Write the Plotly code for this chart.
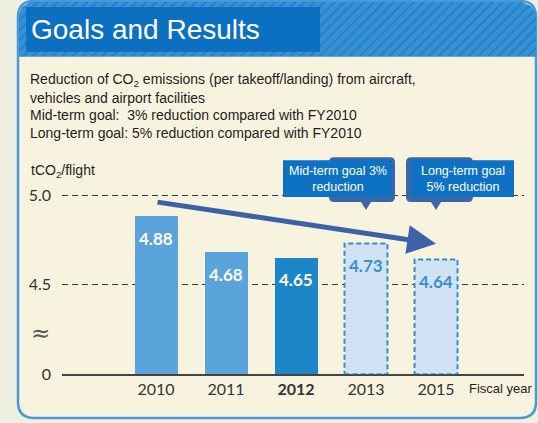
import plotly.graph_objects as go

# ---------------- data ----------------
years = ["2010", "2011", "2012", "2013", "2015"]
tick_labels = ["2010", "2011", "<b>2012</b>", "2013", "2015"]
values = [4.88, 4.68, 4.65, 4.73, 4.64]
is_goal = [False, False, False, True, True]
label_text = ["4.88", "4.68", "4.65", "4.73", "4.64"]
y_tickvals = [4.0, 4.5, 5.0]
y_ticktext = ["0", "4.5", "5.0"]
goal_notes = ["Mid-term goal 3%<br>reduction", "Long-term goal<br>5% reduction"]

# ---------------- geometry helpers ----------------
W, H = 538, 423
FIG_H = 430


def px(x):
    return x / W


def py(y):
    return 1 - y / H


def rrect_path(x0, y0, x1, y1, r):
    pts = [
        f"M {px(x0 + r)} {py(y0)}",
        f"L {px(x1 - r)} {py(y0)}",
        f"Q {px(x1)} {py(y0)} {px(x1)} {py(y0 + r)}",
        f"L {px(x1)} {py(y1 - r)}",
        f"Q {px(x1)} {py(y1)} {px(x1 - r)} {py(y1)}",
        f"L {px(x0 + r)} {py(y1)}",
        f"Q {px(x0)} {py(y1)} {px(x0)} {py(y1 - r)}",
        f"L {px(x0)} {py(y0 + r)}",
        f"Q {px(x0)} {py(y0)} {px(x0 + r)} {py(y0)}",
        "Z",
    ]
    return " ".join(pts)


def callout_path(x0, y0, x1, y1, tipx, tipy, r=5):
    pts = [
        f"M {px(x0 + r)} {py(y0)}",
        f"L {px(x1 - r)} {py(y0)}",
        f"Q {px(x1)} {py(y0)} {px(x1)} {py(y0 + r)}",
        f"L {px(x1)} {py(y1 - r)}",
        f"Q {px(x1)} {py(y1)} {px(x1 - r)} {py(y1)}",
        f"L {px(tipx + 5)} {py(y1)}",
        f"L {px(tipx)} {py(tipy)}",
        f"L {px(tipx - 5)} {py(y1)}",
        f"L {px(x0 + r)} {py(y1)}",
        f"Q {px(x0)} {py(y1)} {px(x0)} {py(y1 - r)}",
        f"L {px(x0)} {py(y0 + r)}",
        f"Q {px(x0)} {py(y0)} {px(x0 + r)} {py(y0)}",
        "Z",
    ]
    return " ".join(pts)


# plot area in pixels
PL, PR, PT, PB = 62, 524, 178, 376
XMIN, XMAX = -1.343, 5.257
YMIN, YMAX = 4.0, 5.1
BAR_W = 0.614

fig = go.Figure()

xs = list(range(len(years)))
bar_colors = []
for i, g in enumerate(is_goal):
    if g:
        bar_colors.append("#cfe3f5")
    elif years[i] == "2012":
        bar_colors.append("#1b87c9")
    else:
        bar_colors.append("#5ba4db")

fig.add_trace(go.Bar(
    x=xs, y=values, width=BAR_W,
    marker=dict(color=bar_colors, line=dict(width=0)),
    hoverinfo="skip", showlegend=False,
))

# header stripes on a full-figure pixel subplot
hx = [19, 19, 22, 30, 522, 531, 536, 536, 19]
hy = [57, 14, 7, 2, 2, 6, 13, 57, 57]
fig.add_trace(go.Scatter(
    x=hx, y=hy, xaxis="x2", yaxis="y2", mode="lines",
    fill="toself", line=dict(width=0), fillcolor="#3592d6",
    fillpattern=dict(shape="/", bgcolor="#3592d6", fgcolor="#1c6db2",
                     size=7, solidity=0.3),
    hoverinfo="skip", showlegend=False,
))

shapes = []
shapes.append(dict(type="path", xref="paper", yref="paper", layer="below",
                   path=rrect_path(18, 1, 536, 420, 16),
                   fillcolor="#f7f3df", line=dict(color="#4b98d6", width=2.5)))

for i, (v, g) in enumerate(zip(values, is_goal)):
    if g:
        shapes.append(dict(type="rect", xref="x", yref="y", layer="above",
                           x0=i - BAR_W / 2, x1=i + BAR_W / 2, y0=YMIN, y1=v,
                           line=dict(color="#2f8fcf", width=2, dash="5px,3px"),
                           fillcolor="rgba(0,0,0,0)"))

shapes.append(dict(type="rect", xref="paper", yref="paper", layer="above",
                   x0=px(26), x1=px(320), y0=py(52), y1=py(7),
                   fillcolor="#0b70c1", line=dict(width=0)))

callouts = [
    (329, 158, 395, 203, 366, 211, 283, 161, 392, 198),
    (406, 158, 473, 203, 436, 211, 411, 161, 514, 198),
]
for c in callouts:
    shapes.append(dict(type="path", xref="paper", yref="paper", layer="above",
                       path=callout_path(c[0], c[1], c[2], c[3], c[4], c[5]),
                       fillcolor="#3d66a8", line=dict(width=0)))
for c in callouts:
    shapes.append(dict(type="rect", xref="paper", yref="paper", layer="above",
                       x0=px(c[6]), x1=px(c[8]), y0=py(c[9]), y1=py(c[7]),
                       fillcolor="#0d72c3", line=dict(width=0)))

annotations = []
for i, (v, g, t) in enumerate(zip(values, is_goal, label_text)):
    annotations.append(dict(x=i, y=v, xref="x", yref="y", text=t,
                            showarrow=False, xanchor="center", yanchor="middle",
                            yshift=-22,
                            font=dict(family="Lato", size=17,
                                      color="#3a8fcc" if g else "#ffffff",
                                      weight="bold")))

annotations.append(dict(x=4, y=4.728, ax=0, ay=4.962, xref="x", yref="y",
                        axref="x", ayref="y", text="", showarrow=True,
                        arrowhead=2, arrowsize=1.15, arrowwidth=5,
                        arrowcolor="#3b62a8"))


def note(text, x, y, size, color="#1e1e1e", xanchor="left", family="Liberation Sans"):
    return dict(x=px(x), y=py(y), xref="paper", yref="paper",
                xanchor=xanchor, yanchor="middle", showarrow=False,
                text=text, align="center" if xanchor == "center" else "left",
                font=dict(family=family, size=size, color=color))


annotations.append(note("Goals and Results", 29, 30, 28, "#ffffff"))

body = [
    "Reduction of CO<sub>2</sub> emissions (per takeoff/landing) from aircraft,",
    "vehicles and airport facilities",
    "Mid-term goal:  3% reduction compared with FY2010",
    "Long-term goal: 5% reduction compared with FY2010",
]
for line, yy in zip(body, [80, 98, 116, 134]):
    annotations.append(note(line, 28, yy, 14))

annotations.append(note("tCO<sub>2</sub>/flight", 29, 172, 14))
annotations.append(note("Fiscal year", 501, 390, 13, xanchor="center"))
annotations.append(note("≈", 40, 335, 23, "#555555", xanchor="center",
                        family="DejaVu Sans"))

for n, c in zip(goal_notes, callouts):
    annotations.append(note(n, (c[6] + c[8]) / 2, (c[7] + c[9]) / 2, 12.5,
                            "#ffffff", xanchor="center"))

fig.update_layout(
    width=W, height=FIG_H,
    margin=dict(l=0, r=0, t=0, b=0, pad=0),
    paper_bgcolor="#eef1e2",
    plot_bgcolor="rgba(0,0,0,0)",
    shapes=shapes,
    annotations=annotations,
    bargap=0,
    xaxis=dict(
        domain=[PL / W, PR / W], range=[XMIN, XMAX],
        tickvals=xs, ticktext=tick_labels, showgrid=False, zeroline=False,
        showline=True, linecolor="#444444", linewidth=1.5, ticks="",
        tickfont=dict(family="Lato", size=16, color="#333333"),
        fixedrange=True,
    ),
    yaxis=dict(
        domain=[1 - PB / H, 1 - PT / H], range=[YMIN, YMAX],
        tickvals=y_tickvals, ticktext=y_ticktext,
        showgrid=True, gridcolor="#3a3a3a", gridwidth=1, griddash="6px,4px",
        zeroline=False, showline=False, ticks="", ticklabelstandoff=10,
        tickfont=dict(family="Lato", size=16, color="#333333"),
        fixedrange=True,
    ),
    xaxis2=dict(domain=[0, 1], range=[0, W], anchor="y2", visible=False,
                fixedrange=True),
    yaxis2=dict(domain=[0, 1], range=[H, 0], anchor="x2", visible=False,
                fixedrange=True),
)

post = (
    "var gd=document.getElementById('{plot_id}');"
    "gd.style.position='fixed';gd.style.top='0px';gd.style.left='0px';"
    "var st='margin:0;padding:0;overflow:hidden;background:#eef1e2;';"
    "document.documentElement.style.cssText=st;document.body.style.cssText=st;"
)

fig.write_html("out.html", config={"displayModeBar": False}, post_script=post)
